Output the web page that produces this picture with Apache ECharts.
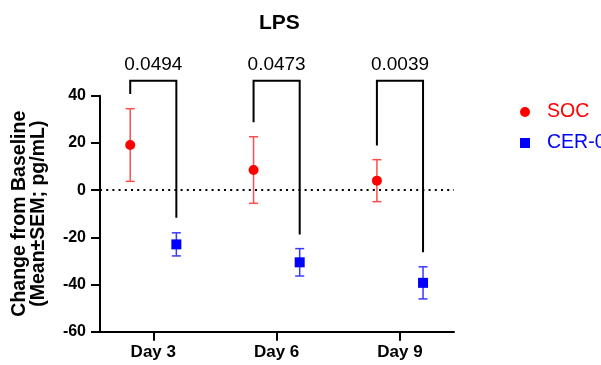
<!DOCTYPE html>
<html>
<head>
<meta charset="utf-8">
<script src="https://cdn.jsdelivr.net/npm/echarts@6/dist/echarts.min.js"></script>
<style>
  html, body { margin: 0; padding: 0; background: #fff; }
  #chart { width: 601px; height: 365px; }
</style>
</head>
<body>
<div id="chart"></div>
<script>
// 数据
var days = ['Day 3', 'Day 6', 'Day 9'];
var socMean = [19.1, 8.5, 4.0];
var socSem = [15.4, 14.1, 8.9];
var cerMean = [-23.0, -30.6, -39.3];
var cerSem = [4.9, 5.8, 6.8];
var pValues = ['0.0494', '0.0473', '0.0039'];
var bracketTop = [46.3, 46.3, 46.3];
var bracketLeftEnd = [40.7, 28.8, 18.9];
var bracketRightEnd = [-11.7, -18.8, -26.3];
var yTicks = [-60, -40, -20, 0, 20, 40];

var offset = 0.187; // 组内偏移
var font = 'Liberation Sans, Arial, sans-serif';

function points(mean, sign) {
  var list = [];
  for (var i = 0; i < mean.length; i++) {
    list.push([i + sign * offset, mean[i]]);
  }
  return list;
}
function bars(mean, sem, sign) {
  var list = [];
  for (var i = 0; i < mean.length; i++) {
    list.push([i + sign * offset, mean[i] - sem[i], mean[i] + sem[i]]);
  }
  return list;
}
function errorBar(color) {
  return function (params, api) {
    var lo = api.coord([api.value(0), api.value(1)]);
    var hi = api.coord([api.value(0), api.value(2)]);
    var cap = 4.5;
    var st = { stroke: color, lineWidth: 1.5 };
    return {
      type: 'group',
      children: [
        { type: 'line', shape: { x1: lo[0], y1: lo[1], x2: hi[0], y2: hi[1] }, style: st },
        { type: 'line', shape: { x1: lo[0] - cap, y1: lo[1], x2: lo[0] + cap, y2: lo[1] }, style: st },
        { type: 'line', shape: { x1: hi[0] - cap, y1: hi[1], x2: hi[0] + cap, y2: hi[1] }, style: st }
      ]
    };
  };
}

var bracketData = [];
for (var i = 0; i < days.length; i++) {
  bracketData.push([i - offset, i + offset, bracketTop[i], bracketLeftEnd[i], bracketRightEnd[i], i]);
}

const myCharts = echarts.init(document.getElementById('chart'));
var option = {
  animation: false,
  title: {
    text: 'LPS',
    left: 254,
    top: 8,
    textStyle: { fontFamily: font, fontSize: 21, fontWeight: 'bold', color: '#000' }
  },
  legend: {
    orient: 'vertical',
    left: 515,
    top: 97,
    itemGap: 11,
    itemWidth: 10,
    itemHeight: 10,
    data: [
      { name: 'SOC', icon: 'circle', textStyle: { color: '#ff0000' } },
      { name: 'CER-001', icon: 'rect', textStyle: { color: '#0000ff' } }
    ],
    textStyle: { fontFamily: font, fontSize: 19.5, padding: [0, 0, 0, 12] }
  },
  grid: { left: 100, right: 147, top: 95.7, bottom: 33.3, containLabel: false, outerBoundsMode: 'none' },
  xAxis: {
    type: 'value',
    min: -0.432,
    max: 2.438,
    axisLine: { onZero: false, lineStyle: { color: '#000', width: 2 } },
    axisTick: { customValues: [0, 1, 2], length: 9, lineStyle: { color: '#000', width: 2 } },
    axisLabel: {
      customValues: [0, 1, 2],
      formatter: function (v) { return days[Math.round(v)]; },
      fontFamily: font, fontSize: 17, fontWeight: 'bold', color: '#000', margin: 12
    },
    splitLine: { show: false }
  },
  yAxis: {
    type: 'value',
    min: -60,
    max: 40,
    interval: 20,
    name: 'Change from Baseline\n(Mean±SEM; pg/mL)',
    nameLocation: 'middle',
    nameGap: 52,
    nameTextStyle: { fontFamily: font, fontSize: 19.5, fontWeight: 'bold', color: '#000', lineHeight: 19 },
    axisLine: { show: true, onZero: false, lineStyle: { color: '#000', width: 2 } },
    axisTick: { show: true, length: 9, lineStyle: { color: '#000', width: 2 } },
    axisLabel: {
      formatter: function (v) { return yTicks.indexOf(v) >= 0 ? String(v) : ''; },
      fontFamily: font, fontSize: 16, fontWeight: 'bold', color: '#000', margin: 14
    },
    splitLine: { show: false }
  },
  series: [
    {
      name: 'SOC-err',
      type: 'custom',
      renderItem: errorBar('#ff4d4d'),
      data: bars(socMean, socSem, -1),
      z: 2,
      silent: true
    },
    {
      name: 'CER-err',
      type: 'custom',
      renderItem: errorBar('#3a3aff'),
      data: bars(cerMean, cerSem, 1),
      z: 2,
      silent: true
    },
    {
      name: 'SOC',
      type: 'scatter',
      symbol: 'circle',
      symbolSize: 10,
      itemStyle: { color: '#ff0000', opacity: 1 },
      data: points(socMean, -1),
      z: 3,
      markLine: {
        silent: true,
        symbol: 'none',
        label: { show: false },
        lineStyle: { color: '#000', type: [2, 4.2], width: 2 },
        data: [{ yAxis: 0 }]
      }
    },
    {
      name: 'CER-001',
      type: 'scatter',
      symbol: 'rect',
      symbolSize: 10,
      itemStyle: { color: '#0000ff', opacity: 1 },
      data: points(cerMean, 1),
      z: 3
    },
    {
      name: 'brackets',
      type: 'custom',
      clip: false,
      silent: true,
      data: bracketData,
      renderItem: function (params, api) {
        var tl = api.coord([api.value(0), api.value(2)]);
        var tr = api.coord([api.value(1), api.value(2)]);
        var bl = api.coord([api.value(0), api.value(3)]);
        var br = api.coord([api.value(1), api.value(4)]);
        var st = { stroke: '#000', lineWidth: 2, fill: null };
        return {
          type: 'group',
          children: [
            { type: 'polyline', shape: { points: [bl, tl, tr, br] }, style: st },
            {
              type: 'text',
              style: {
                text: pValues[api.value(5)],
                x: (tl[0] + tr[0]) / 2,
                y: tl[1] - 7,
                align: 'center',
                verticalAlign: 'bottom',
                fill: '#000',
                font: '19px ' + font
              }
            }
          ]
        };
      }
    }
  ]
};
myCharts.setOption(option);
</script>
</body>
</html>
